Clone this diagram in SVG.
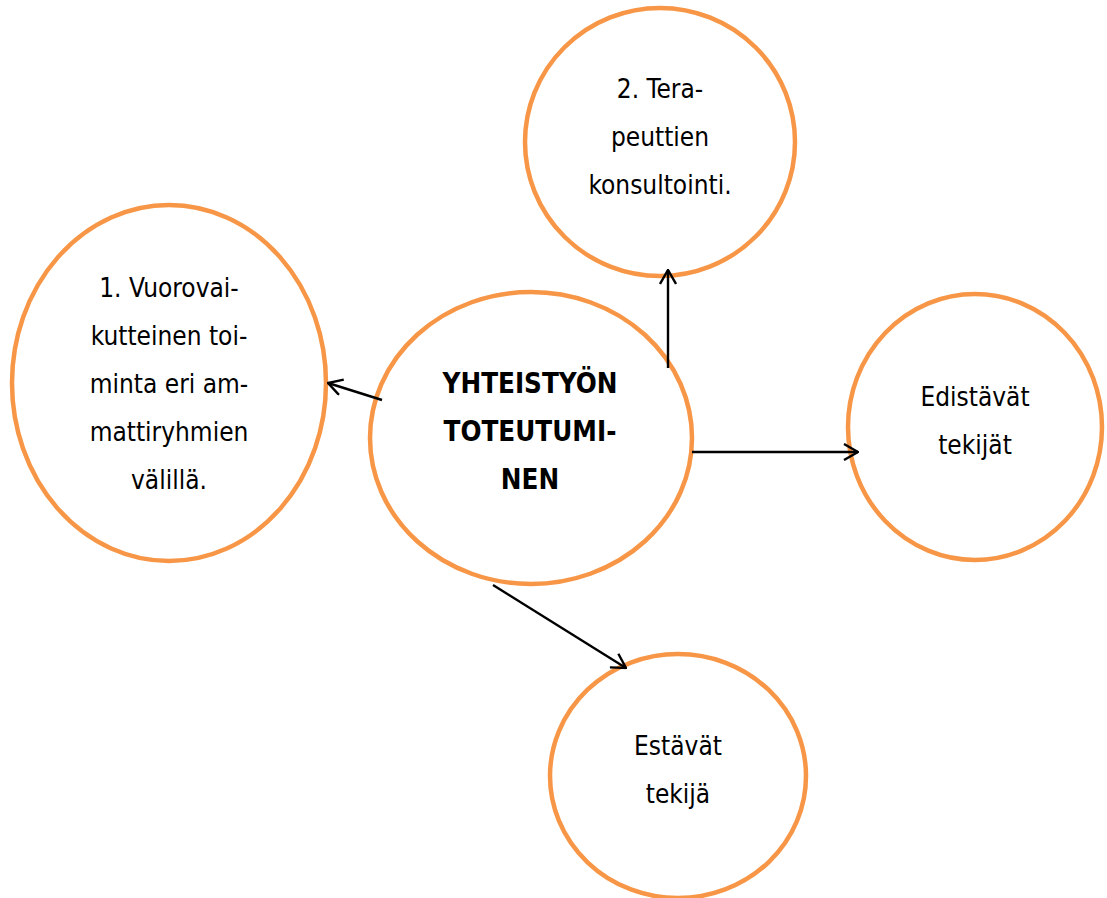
<svg xmlns="http://www.w3.org/2000/svg" width="1107" height="898" viewBox="0 0 1107 898">
<defs>
<style>
.n{fill:#fff;stroke:#F79646;stroke-width:4.5}
.t{font-family:"DejaVu Sans Condensed","Liberation Sans",sans-serif;font-size:26px;fill:#000;text-anchor:middle}
.b{font-weight:bold;font-size:27.5px}
.c{stroke:#000;stroke-width:2.4;fill:none}
</style>
<marker id="ah" viewBox="0 0 16 18" refX="15" refY="9" markerWidth="16" markerHeight="18" markerUnits="userSpaceOnUse" orient="auto">
<path d="M1,1 L15,9 L1,17" fill="none" stroke="#000" stroke-width="2.4"/>
</marker>
</defs>
<rect width="1107" height="898" fill="#fff"/>
<g id="n-left">
<ellipse class="n" cx="169" cy="383" rx="157" ry="178"/>
<text class="t"><tspan x="169" y="297">1. Vuorovai-</tspan><tspan x="169" y="345">kutteinen toi-</tspan><tspan x="169" y="393">minta eri am-</tspan><tspan x="169" y="441">mattiryhmien</tspan><tspan x="169" y="489">välillä.</tspan></text>
</g>
<g id="n-top">
<ellipse class="n" cx="660" cy="142" rx="135" ry="134"/>
<text class="t"><tspan x="660" y="98">2. Tera-</tspan><tspan x="660" y="146">peuttien</tspan><tspan x="660" y="194">konsultointi.</tspan></text>
</g>
<g id="n-right">
<ellipse class="n" cx="975" cy="427" rx="127" ry="133"/>
<text class="t"><tspan x="975" y="406">Edistävät</tspan><tspan x="975" y="454">tekijät</tspan></text>
</g>
<g id="n-bottom">
<ellipse class="n" cx="678" cy="776" rx="128" ry="122"/>
<text class="t"><tspan x="678" y="755">Estävät</tspan><tspan x="678" y="803">tekijä</tspan></text>
</g>
<g id="n-center">
<ellipse class="n" cx="531" cy="438" rx="161" ry="146"/>
<text class="t b"><tspan x="530" y="393">YHTEISTYÖN</tspan><tspan x="530" y="441">TOTEUTUMI-</tspan><tspan x="530" y="489">NEN</tspan></text>
</g>
<g id="connectors">
<line class="c" x1="382" y1="400" x2="328" y2="383" marker-end="url(#ah)"/>
<line class="c" x1="668" y1="368" x2="668" y2="270" marker-end="url(#ah)"/>
<line class="c" x1="692" y1="452" x2="858" y2="452" marker-end="url(#ah)"/>
<line class="c" x1="493" y1="585" x2="626" y2="668" marker-end="url(#ah)"/>
</g>
</svg>
